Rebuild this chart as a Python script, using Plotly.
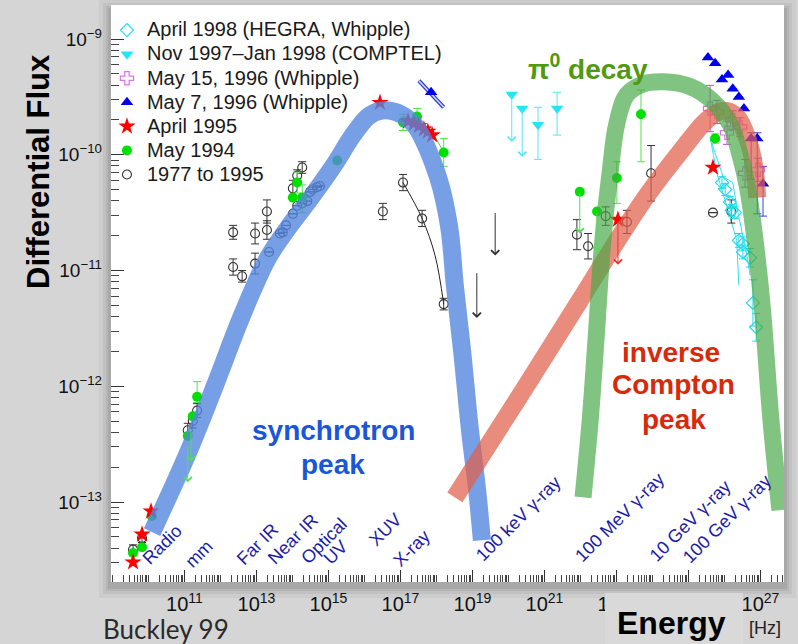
import plotly.graph_objects as go

# ---------------- broad emission components (log10 nu [Hz], log10 flux) ----------------
sync_lognu = [10.10, 11.13, 11.85, 12.49, 12.88, 13.32, 13.88, 14.49, 15.13, 15.68, 16.10,
              16.43, 16.85, 17.21, 17.46, 18.04, 18.35, 18.51, 18.71, 18.93, 19.13, 19.26]
sync_logf = [-13.26, -12.55, -11.99, -11.47, -11.18, -10.89, -10.63, -10.38, -10.10, -9.83,
             -9.67, -9.62, -9.63, -9.69, -9.77, -10.19, -10.62, -11.13, -11.69, -12.38,
             -12.90, -13.33]

ic_lognu = [18.51, 20.32, 21.98, 22.90, 23.85, 24.76, 25.51, 25.96, 26.34, 26.65, 26.82, 26.91]
ic_logf = [-12.96, -12.08, -11.26, -10.80, -10.35, -9.98, -9.70, -9.62, -9.67, -9.87, -10.09, -10.37]

pi0_lognu = [22.07, 22.27, 22.43, 22.62, 22.82, 23.01, 23.29, 23.73, 24.30, 25.04,
             25.68, 26.16, 26.43, 26.65, 26.85, 27.05, 27.29, 27.54]
pi0_logf = [-12.96, -12.29, -11.60, -10.74, -10.16, -9.73, -9.48, -9.39, -9.37, -9.41,
            -9.54, -9.74, -10.00, -10.30, -10.74, -11.32, -12.29, -13.07]

# ---------------- observations ----------------
# 1977 to 1995 (archival)
old_lognu = [9.57, 9.82, 11.09, 11.23, 11.35,
             12.35, 12.35, 12.60, 12.96, 12.96, 13.29, 13.29, 13.35, 13.65, 13.73,
             13.82, 14.01, 14.13, 14.27, 14.41, 14.49, 14.56, 14.68, 14.76, 14.01,
             14.13, 14.27, 16.51, 17.07, 17.60, 18.20, 21.90, 22.21, 22.70, 23.29,
             23.96, 25.68, 26.19]
old_logf = [-13.41, -13.31, -12.38, -12.30, -12.21,
            -10.67, -10.97, -11.05, -10.68, -10.94, -10.49, -10.65, -10.84, -10.68, -10.67,
            -10.61, -10.51, -10.44, -10.42, -10.40, -10.32, -10.30, -10.28, -10.27, -10.29,
            -10.18, -10.11, -10.49, -10.24, -10.55, -11.29, -10.69, -10.79, -10.53, -10.58,
            -10.16, -10.50, -10.49]
old_err = [0.04, 0.04, 0.06, 0.06, 0.06,
           0.06, 0.07, 0.05, 0.09, 0.09, 0.10, 0.08, 0.0, 0.0, 0.0,
           0.0, 0.0, 0.0, 0.0, 0.0, 0.0, 0.0, 0.0, 0.0, 0.07,
           0.05, 0.05, 0.07, 0.07, 0.07, 0.05, 0.13, 0.11, 0.08, 0.10,
           0.24, 0.0, 0.10]
old_ul_lognu = [19.63, 19.12]
old_ul_from = [-10.49, -11.01]
old_ul_to = [-10.87, -11.41]
old_fit_lognu = [17.07, 17.60, 17.96, 18.20]
old_fit_logf = [-10.24, -10.55, -10.87, -11.29]

# May 1994
may94_lognu = [9.57, 9.82, 10.09, 11.35, 11.23, 11.09, 14.13, 14.01, 14.27, 15.24,
               17.07, 17.46, 18.20, 21.98, 22.46, 23.01, 23.68, 25.74]
may94_logf = [-13.44, -13.39, -13.12, -12.09, -12.26, -12.43, -10.24, -10.37, -10.37, -10.05,
              -9.72, -9.67, -9.98, -10.32, -10.49, -10.20, -9.65, -9.86]
may94_up = [0, 0, 0, 0.13, 0, 0, 0.09, 0, 0.11, 0, 0.07, 0.07, 0.12, 0, 0, 0.14, 0.21, 0.04]
may94_dn = [0, 0, 0, 0.05, 0, 0, 0.09, 0, 0.13, 0, 0.07, 0.07, 0.12, 0, 0, 0.22, 0.41, 0.04]
may94_ul_lognu = [11.18, 11.09, 21.98, 22.46]
may94_ul_from = [-12.38, -12.51, -10.32, -10.49]
may94_ul_to = [-12.65, -12.83, -10.68, -10.84]
may94_fit_lognu = [17.07, 17.68, 18.20]
may94_fit_logf = [-9.67, -9.74, -9.98]

# April 1995
apr95_lognu = [9.57, 9.82, 10.07, 16.43, 17.21, 17.37, 17.51, 17.65, 17.76, 17.88, 23.04, 25.68]
apr95_logf = [-13.52, -13.28, -13.08, -9.55, -9.71, -9.73, -9.75, -9.78, -9.80, -9.83, -10.56, -10.11]
apr95_ul_lognu = [23.04]
apr95_ul_from = [-10.56]
apr95_ul_to = [-10.95]

# May 7, 1996 (Whipple)
may7_lognu = [25.54, 25.74, 25.93, 26.10, 26.23, 26.40, 26.54, 26.74, 26.91, 27.07, 17.85]
may7_logf = [-9.16, -9.21, -9.35, -9.31, -9.43, -9.50, -9.60, -9.86, -9.86, -10.25, -9.46]
may7_up = [0, 0, 0, 0, 0, 0, 0, 0.05, 0.05, 0.15, 0]
may7_dn = [0, 0, 0, 0, 0, 0, 0, 0.35, 0.65, 0.28, 0]
xray_bow_lognu = [17.51, 18.20]
xray_bow_logf = [-9.36, -9.59]

# May 15, 1996 (Whipple)
may15_lognu = [25.60, 25.79, 26.07, 26.23, 26.43, 26.57, 26.93]
may15_logf = [-9.60, -9.63, -9.81, -9.70, -9.76, -10.16, -10.13]
may15_err = [0.20, 0.10, 0.10, 0.08, 0.08, 0.12, 0.10]

# Nov 1997 - Jan 1998 (COMPTEL)
comptel_lognu = [20.09, 20.38, 20.82, 21.35]
comptel_logf = [-9.48, -9.60, -9.74, -9.60]
comptel_up = [0, 0, 0.15, 0.14]
comptel_dn = [0, 0, 0.30, 0.23]
comptel_ul_lognu = [20.09, 20.38]
comptel_ul_from = [-9.48, -9.60]
comptel_ul_to = [-9.89, -10.02]

# April 1998 (HEGRA, Whipple)
hegra_lognu = [25.93, 26.02, 26.15, 26.20, 26.29, 26.40, 26.51, 26.51, 26.71, 26.79, 26.88]
hegra_logf = [-10.24, -10.30, -10.41, -10.48, -10.50, -10.74, -10.77, -10.84, -10.89, -11.28, -11.49]
hegra_err = [0.05, 0.05, 0.05, 0.05, 0.05, 0.06, 0.06, 0.06, 0.08, 0.20, 0.12]
hegra_fit1_lognu = [25.60, 25.79, 26.07, 26.34, 26.40]
hegra_fit1_logf = [-9.85, -10.16, -10.45, -10.74, -11.13]
hegra_fit2_lognu = [25.65, 25.96, 26.23, 26.34, 26.63, 26.71]
hegra_fit2_logf = [-9.90, -10.19, -10.24, -10.45, -10.88, -11.04]

# axis ticks (decade exponents)
x_tick_exp = [11, 13, 15, 17, 19, 21, 23, 25, 27]
y_tick_exp = [-13, -12, -11, -10, -9]
x_minor_decades = list(range(9, 28))
y_minor_decades = list(range(-14, -8))

# band labels along the frequency axis
band_labels = ["Radio", "mm", "Far IR", "Near IR", "Optical", "UV", "XUV", "X-ray",
               "100 keV γ-ray", "100 MeV γ-ray", "10 GeV γ-ray", "100 GeV γ-ray"]
band_pos = [(0.0758, 0.0640), (0.1308, 0.0485), (0.2184, 0.0650), (0.2704, 0.0745),
            (0.3165, 0.0710), (0.3343, 0.0520), (0.4072, 0.0900), (0.4472, 0.0590),
            (0.6048, 0.1092), (0.7563, 0.1127), (0.8603, 0.1060), (0.9153, 0.1092)]

legend_names = ["April 1998 (HEGRA, Whipple)", "Nov 1997–Jan 1998 (COMPTEL)",
                "May 15, 1996 (Whipple)", "May 7, 1996 (Whipple)", "April 1995",
                "May 1994", "1977 to 1995"]

FONT = "Liberation Sans, Arial, sans-serif"


def lin(vals):
    return [10.0 ** v for v in vals]


def err_arrays(logf, up, dn):
    plus = [(10 ** (f + u) - 10 ** f) if u > 0 else None for f, u in zip(logf, up)]
    minus = [(10 ** f - 10 ** (f - d)) if d > 0 else None for f, d in zip(logf, dn)]
    return plus, minus


def lname(i):
    return f'<span style="font-size:20px">{legend_names[i]}</span>'


def power_label(e):
    return "10<sup>" + str(e).replace("-", "\u2212") + "</sup>"


fig = go.Figure()


def add_points(name, rank, lognu, logf, up, dn, symbol, color, size, lw=1.2, ecolor=None):
    plus, minus = err_arrays(logf, up, dn)
    fig.add_trace(go.Scatter(
        x=lin(lognu), y=lin(logf), mode="markers", name=name, legendrank=rank,
        marker=dict(symbol=symbol, color=color, size=size, line=dict(width=lw, color=color)),
        error_y=dict(type="data", symmetric=False, array=plus, arrayminus=minus,
                     color=ecolor or color, thickness=1, width=4),
    ))


def add_line(lognu, logf, color, width, shape="spline"):
    fig.add_trace(go.Scatter(x=lin(lognu), y=lin(logf), mode="lines", showlegend=False,
                             hoverinfo="skip", line=dict(color=color, width=width, shape=shape)))


# thin fitted spectra
add_line(old_fit_lognu, old_fit_logf, "#222222", 1)
add_line(may94_fit_lognu, may94_fit_logf, "#44dd44", 1)
add_line(hegra_fit1_lognu, hegra_fit1_logf, "#30e0f0", 1, "linear")
add_line(hegra_fit2_lognu, hegra_fit2_logf, "#30e0f0", 1, "linear")
add_line(xray_bow_lognu, xray_bow_logf, "#2a3ad8", 4, "linear")
add_line(xray_bow_lognu, xray_bow_logf, "#d8dcff", 1.5, "linear")

# data points
add_points(lname(6), 7, old_lognu, old_logf, old_err, old_err,
           "circle-open", "#333333", 9, 1.1)
add_points(lname(5), 6, may94_lognu, may94_logf, may94_up, may94_dn,
           "circle", "#00e000", 10, 0, ecolor="#55e055")
add_points(lname(4), 5, apr95_lognu, apr95_logf, [0] * len(apr95_lognu), [0] * len(apr95_lognu),
           "star", "#ff0000", 13, 0)
add_points(lname(2), 3, may15_lognu, may15_logf, may15_err, may15_err,
           "cross-open", "#e070e8", 11, 1.2, ecolor="#c050c8")
add_points(lname(3), 4, may7_lognu, may7_logf, may7_up, may7_dn,
           "triangle-up", "#0000ee", 11, 0, ecolor="#3344ee")
add_points(lname(1), 2, comptel_lognu, comptel_logf, comptel_up, comptel_dn,
           "triangle-down", "#22e6f6", 11, 0, ecolor="#55e8f4")
add_points(lname(0), 1, hegra_lognu, hegra_logf, hegra_err, hegra_err,
           "diamond-open", "#22dcee", 10, 1.2)

# broad components drawn semi-transparent over the data
add_line(sync_lognu, sync_logf, "rgba(85,135,222,0.80)", 18)
add_line(ic_lognu, ic_logf, "rgba(226,95,75,0.72)", 18)
add_line(pi0_lognu, pi0_logf, "rgba(70,168,70,0.68)", 17)

annotations = []

# upper limits
for lognu_l, f0, f1, col in [(old_ul_lognu, old_ul_from, old_ul_to, "#333333"),
                             (may94_ul_lognu, may94_ul_from, may94_ul_to, "#55dd55"),
                             (apr95_ul_lognu, apr95_ul_from, apr95_ul_to, "#ee3333"),
                             (comptel_ul_lognu, comptel_ul_from, comptel_ul_to, "#55e8f4")]:
    for nu, a, b in zip(lognu_l, f0, f1):
        annotations.append(dict(x=nu, y=b, ax=nu, ay=a, xref="x", yref="y", axref="x", ayref="y",
                                text="", showarrow=True, arrowhead=4, arrowsize=1.6,
                                arrowwidth=1, arrowcolor=col, standoff=0, startstandoff=0))

# band names
for txt, (px, py) in zip(band_labels, band_pos):
    annotations.append(dict(x=px, y=py, xref="paper", yref="paper", text=txt, showarrow=False,
                            textangle=-45, xanchor="center", yanchor="middle",
                            font=dict(family=FONT, size=18, color="#1c1ca6")))

# component names
big = [("<b>synchrotron</b>", 0.3299, 0.2634, "#1a56d6"),
       ("<b>peak</b>", 0.3299, 0.2045, "#1a56d6"),
       ("<b>π<sup>0</sup> decay</b>", 0.7088, 0.8925, "#4f9a0f"),
       ("<b>inverse</b>", 0.8321, 0.3969, "#d82a0a"),
       ("<b>Compton</b>", 0.8351, 0.3431, "#d82a0a"),
       ("<b>peak</b>", 0.8366, 0.2808, "#d82a0a")]
for txt, px, py, col in big:
    annotations.append(dict(x=px, y=py, xref="paper", yref="paper", text=txt, showarrow=False,
                            xanchor="center", yanchor="middle",
                            font=dict(family=FONT, size=28, color=col)))

# axis captions and credit, placed in pixels of the page
captions = [
    dict(x=38, y=172, text="<b>Differential Flux</b>", textangle=-90,
         font=dict(family=FONT, size=31, color="#000000")),
    dict(x=671, y=623, text="<b>Energy</b>",
         font=dict(family=FONT, size=32, color="#000000")),
    dict(x=765, y=628, text="[Hz]",
         font=dict(family=FONT, size=18, color="#222222")),
    dict(x=166, y=629, text="Buckley 99",
         font=dict(family="Lato, Open Sans, sans-serif", size=26, color="#2a2a2a")),
]

L, R, T, B = 111, 784, 5, 582
for a in captions:
    a.update(xref="paper", yref="paper", showarrow=False, xanchor="center", yanchor="middle",
             x=(a["x"] - L) / (R - L), y=(B - a["y"]) / (B - T))
annotations += captions

dx, dy = 1.0 / (R - L), 1.0 / (B - T)
shapes = []
for k, op in [(12, 0.04), (8, 0.05), (5, 0.06), (3, 0.07)]:
    shapes.append(dict(type="rect", xref="paper", yref="paper", layer="below",
                       x0=-k * dx, x1=1 + k * dx, y0=-(k + 4) * dy, y1=1 + (k - 6) * dy,
                       fillcolor=f"rgba(0,0,0,{op})", line=dict(width=0)))
shapes.append(dict(type="rect", xref="paper", yref="paper", layer="below",
                   x0=0, x1=1, y0=0, y1=1, fillcolor="white", line=dict(width=0)))
# caption plate under "Energy"
shapes.append(dict(type="rect", xref="paper", yref="paper", layer="above",
                   x0=(605 - L) * dx, x1=(743 - L) * dx, y0=(B - 644) * dy, y1=(B - 593) * dy,
                   fillcolor="#d9d9d9", line=dict(width=0)))

# log-spaced minor tick positions
x_major = set(x_tick_exp)
x_minor = [k * 10.0 ** n for n in x_minor_decades for k in range(1, 10)
           if not (k == 1 and n in x_major)]
y_minor = [k * 10.0 ** n for n in y_minor_decades for k in range(2, 10)]

fig.update_layout(
    width=798, height=644,
    margin=dict(l=L, r=798 - R, t=T, b=644 - B),
    paper_bgcolor="#d5d5d5", plot_bgcolor="rgba(0,0,0,0)",
    font=dict(family=FONT, color="#111111"),
    showlegend=True,
    legend=dict(x=-0.006, y=0.986, xanchor="left", yanchor="top", bgcolor="rgba(0,0,0,0)",
                font=dict(family=FONT, size=16.2, color="#1a1a1a"), tracegroupgap=0,
                itemsizing="trace"),
    xaxis=dict(type="log", range=[8.958, 27.653],
               tickmode="array", tickvals=[10.0 ** e for e in x_tick_exp],
               ticktext=[power_label(e) for e in x_tick_exp],
               showgrid=False, zeroline=False, showline=False,
               ticks="inside", ticklen=12, tickcolor="#333333", tickwidth=1.3,
               ticklabelstandoff=8,
               tickfont=dict(family=FONT, size=20, color="#111111"),
               minor=dict(tickmode="array", tickvals=x_minor, ticks="inside", ticklen=7,
                          tickcolor="#444444", tickwidth=1.2, showgrid=False)),
    yaxis=dict(type="log", range=[-13.691, -8.706],
               tickmode="array", tickvals=[10.0 ** e for e in y_tick_exp],
               ticktext=[power_label(e) for e in y_tick_exp],
               showgrid=False, zeroline=False, showline=False,
               ticks="inside", ticklen=13, tickcolor="#333333", tickwidth=1.3,
               ticklabelstandoff=8,
               tickfont=dict(family=FONT, size=19, color="#111111"),
               minor=dict(tickmode="array", tickvals=y_minor, ticks="inside", ticklen=8,
                          tickcolor="#444444", tickwidth=1.2, showgrid=False)),
    annotations=annotations,
    shapes=shapes,
)

fig.write_html("out.html")
